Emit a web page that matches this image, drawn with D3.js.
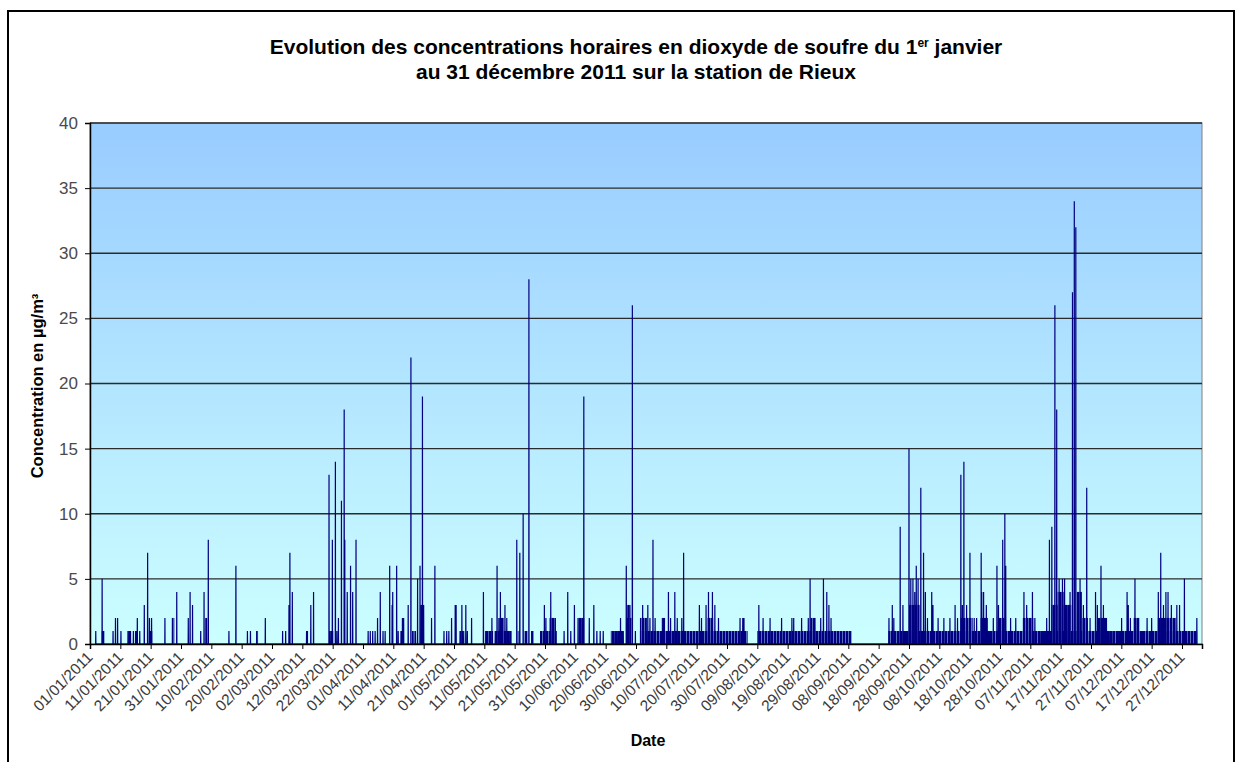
<!DOCTYPE html>
<html>
<head>
<meta charset="utf-8">
<script src="https://cdn.jsdelivr.net/npm/d3@7"></script>
<style>
  body { margin: 0; background: #fff; }
  svg text { font-family: "Liberation Sans", Arial, sans-serif; }
</style>
</head>
<body>
<svg id="chart"></svg>
<script>
// x axis labels, one every 10 days (240 hourly values)
const tickLabels = ["01/01/2011","11/01/2011","21/01/2011","31/01/2011","10/02/2011","20/02/2011","02/03/2011",
  "12/03/2011","22/03/2011","01/04/2011","11/04/2011","21/04/2011","01/05/2011","11/05/2011","21/05/2011",
  "31/05/2011","10/06/2011","20/06/2011","30/06/2011","10/07/2011","20/07/2011","30/07/2011","09/08/2011",
  "19/08/2011","29/08/2011","08/09/2011","18/09/2011","28/09/2011","08/10/2011","18/10/2011","28/10/2011",
  "07/11/2011","17/11/2011","27/11/2011","07/12/2011","17/12/2011","27/12/2011"];
const yTicks = [0, 5, 10, 15, 20, 25, 30, 35, 40];

const spikes = [
  [1.9,1],[4.0,5],[4.3,1],[7.6,1],[8.4,2],[9.1,2],[10.2,1],[12.6,1],[13.3,1],[14.3,1],[15.6,2],[16.4,1],
  [17.9,3],[19.0,7],[19.6,2],[20.3,2],[24.7,2],[27.2,2],[28.6,4],[32.4,2],[33.0,4],[33.8,3],[36.5,1],
  [37.6,4],[38.4,2],[39.0,8],[45.8,1],[48.1,6],[51.9,1],[52.9,1],[55.0,1],[57.8,2],[63.5,1],[64.5,1],
  [65.6,3],[65.9,7],[66.7,4],[71.4,1],[72.8,3],[73.7,4],
  [78.8,13],[79.2,1],[79.9,8],[80.9,14],[81.4,1],[81.9,2],[82.9,11],[83.8,18],[84.0,8],[84.8,4],[85.9,6],
  [86.6,4],[87.7,8],
  [91.7,1],[92.4,1],[93.2,1],[94.0,1],[94.8,2],[95.7,4],[96.6,1],[97.3,1],[98.8,6],[99.6,3],[99.8,4],
  [101.1,6],[101.6,1],[102.6,1],[103.0,2],[103.4,2],[104.9,3],[105.8,22],[106.4,1],[107.3,1],[108.0,5],
  [108.8,6],[109.3,3],[109.6,19],[110.0,3],[112.6,2],[113.7,6],[116.7,1],[117.6,1],[118.3,1],[119.2,2],
  [120.4,3],[120.7,3],
  [122.0,1],[122.6,3],[123.2,1],[123.9,3],[124.4,1],[125.8,2],[129.7,4],[130.5,1],[131.7,1],[132.5,2],
  [133.6,1],[134.2,6],[134.8,2],[135.3,4],[136.0,2],[136.8,3],[137.4,2],[138.2,1],[140.7,8],[141.7,7],
  [142.8,10],[143.6,1],[144.7,28],[145.8,1],[148.6,1],[149.8,3],[150.3,2],[151.9,4],[152.5,2],[153.4,2],
  [156.3,1],[157.5,4],[158.5,1],[159.7,3],[160.9,2],[162.2,2],[162.8,19],[164.6,2],[166.1,3],[167.1,1],
  [168.2,1],[169.2,1],
  [172.2,1],[173.1,1],[174.0,1],[174.9,2],[175.8,1],[176.8,6],[177.4,3],[178.0,3],[178.8,26],[179.8,1],
  [182.2,3],[183.9,3],[184.6,2],[185.6,8],[186.3,2],[188.8,2],[190.7,4],[191.4,2],[192.8,4],[193.6,2],
  [195.1,2],[195.7,7],[200.9,3],[201.6,2],[203.1,3],[203.9,4],[205.2,4],[206.0,3],[207.2,2],[214.3,2],
  [215.2,2],[215.6,2],[220.5,3],[221.9,2],[224.2,2],[228.0,2],[231.4,2],[232.0,2],[234.6,2],[236.8,2],
  [237.4,5],[239.0,2],[240.9,2],[241.8,5],[242.9,4],[243.6,3],[244.3,2],
  [263.4,2],[264.5,3],[265.0,2],[267.1,9],[268.0,3],[268.9,1],[270.0,15],[270.6,5],[271.3,5],[271.9,4],
  [272.4,6],[273.0,5],[273.9,12],[274.8,7],[275.4,4],[276.1,2],[277.5,4],[277.9,3],[279.6,2],[281.5,2],
  [283.5,2],[285.2,3],[286.0,2],[287.1,13],[287.6,3],[288.1,14],[289.0,3],[290.1,7],[291.5,2],[292.3,2],
  [293.8,7],[294.0,4],[294.6,4],[295.5,3],[296.6,1],[297.8,2],[299.0,6],[299.5,3],[300.9,8],[301.6,10],
  [301.9,6],
  [303.5,2],[305.2,2],[307.9,4],[308.8,3],[310.7,4],[311.5,2],[313.2,1],[314.3,1],[315.4,2],[316.3,8],
  [317.1,9],[318.1,26],[318.7,18],[319.5,5],[320.0,4],[320.6,5],[321.3,5],[322.1,3],[323.1,4],[323.9,27],
  [324.5,34],[325.0,32],[325.6,4],[326.4,5],[327.5,3],[328.6,12],[329.7,2],[331.5,4],[332.1,3],[333.3,6],
  [334.1,3],[335.1,2],[336.2,1],[337.3,1],
  [339.0,1],[340.1,2],[341.9,4],[342.3,3],[343.0,2],[344.5,5],[345.3,2],[347.0,1],[348.5,2],[350.0,2],
  [351.5,1],[352.2,4],[353.0,7],[353.9,3],[354.7,4],[355.4,4],[356.5,3],[357.6,2],[358.3,3],[359.2,3],
  [360.8,5],[361.5,1],[364.9,2]
];

// stretches where the hourly values keep flickering between 0 and a level : [start day, end day, level]
const denseSpans = [
  [3.8,4.8,1],[12.4,13.6,1],[14.8,15.8,1],[19.5,20.6,1],[27.0,27.8,2],[38.0,38.6,2],[54.8,55.4,1],
  [71.2,71.9,1],[79.4,80.2,1],[102.4,103.4,1],[106.2,107.0,1],[108.9,110.0,3],
  [122.0,123.0,1],[130.2,132.9,1],[133.5,139.0,1],[135.0,136.5,2],[141.0,141.6,1],[143.2,144.3,1],
  [145.4,146.3,1],[148.4,153.9,1],[151.5,153.4,2],[161.0,163.0,2],[171.7,175.8,1],[176.8,178.5,2],
  [177.2,178.0,3],
  [181.3,216.8,1],[220.0,251.1,1],[181.3,183.6,2],[188.5,189.6,2],[203.5,205.5,2],[237.5,239.0,2],
  [263.2,365.0,1],[270.0,273.5,3],[287.0,291.0,2],[293.5,296.0,2],[299.5,302.0,2],[307.5,311.0,2],
  [317.0,319.0,3],[319.0,321.0,4],[321.0,323.5,3],[325.3,327.0,4],[327.0,329.0,2],
  [332.0,335.0,2],[344.0,346.0,2],[352.0,358.0,2]
];

class HourlyChart {
  constructor(_config) {
    this.config = {
      parentElement: _config.parentElement,
      containerWidth: 1238,
      containerHeight: 762,
      margin: { top: 123, left: 90, right: 36, bottom: 118 }
    };
    this.initVis();
  }

  initVis() {
    let vis = this;
    vis.width = vis.config.containerWidth - vis.config.margin.left - vis.config.margin.right;
    vis.height = vis.config.containerHeight - vis.config.margin.top - vis.config.margin.bottom;

    vis.svg = d3.select(vis.config.parentElement)
      .attr('width', vis.config.containerWidth)
      .attr('height', vis.config.containerHeight);

    // outer frame of the chart object
    vis.svg.append('rect')
      .attr('x', 8).attr('y', 11)
      .attr('width', 1226).attr('height', 770)
      .attr('fill', 'none').attr('stroke', '#000').attr('stroke-width', 2);

    let defs = vis.svg.append('defs');
    let grad = defs.append('linearGradient')
      .attr('id', 'bg').attr('x1', 0).attr('y1', 0).attr('x2', 0).attr('y2', 1);
    grad.append('stop').attr('offset', '0%').attr('stop-color', '#99ccff');
    grad.append('stop').attr('offset', '100%').attr('stop-color', '#ccffff');

    // hour-by-hour flicker looks like tightly packed vertical strokes
    let pat = defs.append('pattern')
      .attr('id', 'flicker').attr('patternUnits', 'userSpaceOnUse')
      .attr('width', 3).attr('height', 10);
    pat.append('rect').attr('width', 2.2).attr('height', 10).attr('fill', '#000080');
    pat.append('rect').attr('x', 2.2).attr('width', 0.8).attr('height', 10).attr('fill', '#3f55b0');

    vis.chart = vis.svg.append('g')
      .attr('transform', `translate(${vis.config.margin.left},${vis.config.margin.top})`);

    vis.xScale = d3.scaleLinear().domain([0, 366.6]).range([0, vis.width]);
    vis.yScale = d3.scaleLinear().domain([0, 40]).range([vis.height, 0]);

    vis.chart.append('rect')
      .attr('width', vis.width).attr('height', vis.height)
      .attr('fill', 'url(#bg)').attr('stroke', '#808080');

    // horizontal grid
    vis.chart.append('g')
      .selectAll('line').data(yTicks.filter(d => d > 0)).join('line')
      .attr('x1', 0).attr('x2', vis.width)
      .attr('y1', d => vis.yScale(d)).attr('y2', d => vis.yScale(d))
      .attr('stroke', '#2b2b2b').attr('stroke-width', 1.3);

    vis.renderVis();

    // axes
    vis.yAxis = d3.axisLeft(vis.yScale).tickValues(yTicks).tickSize(5).tickPadding(7);
    vis.xAxis = d3.axisBottom(vis.xScale)
      .tickValues(tickLabels.map((d, i) => i * 10))
      .tickFormat((d, i) => tickLabels[i])
      .tickSize(5).tickPadding(4);

    let yG = vis.chart.append('g').call(vis.yAxis);
    yG.select('.domain').attr('stroke', '#000').attr('stroke-width', 1.5);
    yG.selectAll('.tick line').attr('stroke', '#000');
    yG.selectAll('.tick text')
      .attr('fill', '#4a4a4a').style('font-size', '17px');

    let xG = vis.chart.append('g')
      .attr('transform', `translate(0,${vis.height})`)
      .call(vis.xAxis);
    xG.select('.domain').attr('stroke', '#000').attr('stroke-width', 1.5);
    xG.selectAll('.tick line').attr('stroke', '#000');
    xG.selectAll('.tick text')
      .attr('fill', '#3a3a3a').style('font-size', '15.5px')
      .attr('text-anchor', 'end')
      .attr('dy', '0.35em')
      .attr('transform', 'translate(-7,4) rotate(-45)');

    // titles
    let title = vis.svg.append('text')
      .attr('x', 636).attr('y', 54)
      .attr('text-anchor', 'middle')
      .style('font-size', '21px').style('font-weight', 'bold').attr('fill', '#000');
    title.append('tspan').text('Evolution des concentrations horaires en dioxyde de soufre du 1');
    title.append('tspan').text('er').attr('dy', -7).style('font-size', '12px');
    title.append('tspan').text(' janvier').attr('dy', 7);
    vis.svg.append('text')
      .attr('x', 636).attr('y', 79)
      .attr('text-anchor', 'middle')
      .style('font-size', '21px').style('font-weight', 'bold').attr('fill', '#000')
      .text('au 31 décembre 2011 sur la station de Rieux');

    vis.svg.append('text')
      .attr('x', 648).attr('y', 746)
      .attr('text-anchor', 'middle')
      .style('font-size', '16px').style('font-weight', 'bold')
      .text('Date');

    vis.svg.append('text')
      .attr('transform', 'translate(43,386) rotate(-90)')
      .attr('text-anchor', 'middle')
      .style('font-size', '16.5px').style('font-weight', 'bold')
      .text('Concentration en µg/m³');
  }

  renderVis() {
    let vis = this;
    const hour = 1 / 24;

    // dense stretches, drawn as a band of packed strokes
    let area = d3.area()
      .x(d => vis.xScale(d[0]))
      .y0(vis.yScale(0))
      .y1(d => vis.yScale(d[1]));
    vis.chart.append('g')
      .selectAll('path').data(denseSpans).join('path')
      .attr('d', d => area([[d[0], d[2]], [d[1], d[2]]]))
      .attr('fill', 'url(#flicker)');

    // the hourly line itself, each peak going up and back down within an hour
    let pts = [];
    spikes.forEach(s => {
      pts.push([s[0] - hour, 0]);
      pts.push([s[0], s[1]]);
      pts.push([s[0] + hour, 0]);
    });
    let line = d3.line().x(d => vis.xScale(d[0])).y(d => vis.yScale(d[1]));
    vis.chart.append('path')
      .datum(pts)
      .attr('d', line)
      .attr('fill', 'none')
      .attr('stroke', '#000080')
      .attr('stroke-width', 1.2);
  }
}

new HourlyChart({ parentElement: '#chart' });
</script>
</body>
</html>
